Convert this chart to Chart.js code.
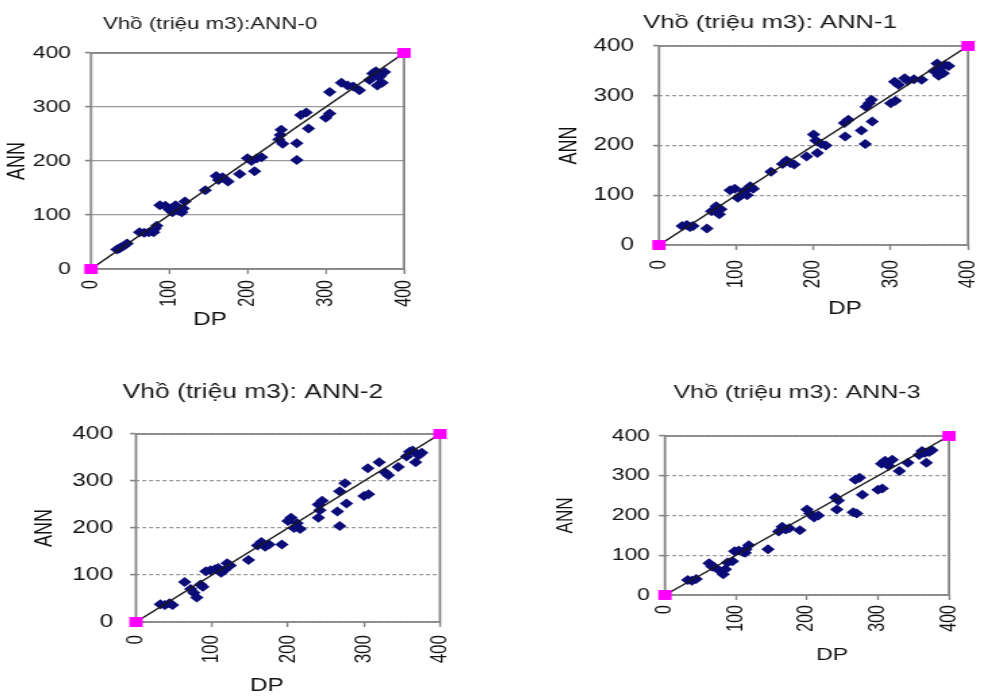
<!DOCTYPE html>
<html>
<head>
<meta charset="utf-8">
<script src="https://cdn.jsdelivr.net/npm/chart.js@4/dist/chart.umd.min.js"></script>
<style>
html, body { margin:0; padding:0; background:#fff; width:982px; height:698px; overflow:hidden; }
.panel { position:absolute; transform-origin:0 0; }
.panel canvas { display:block; }
</style>
</head>
<body>
<script>
////////////data////////////
var titles = ['Vhồ (triệu m3):ANN-0', 'Vhồ (triệu m3): ANN-1', 'Vhồ (triệu m3): ANN-2', 'Vhồ (triệu m3): ANN-3'];
var xTitle = 'DP', yTitle = 'ANN';
var axisMin = 0, axisMax = 400, axisStep = 100;

// 1:1 reference line, its end points are the pink squares
var lineX = [0, 400];
var lineY = [0, 400];

// ANN-0
var dp0  = [33,36,38,42,46, 62,68,74, 80,82,84, 88,95, 100,104,108,112,116,118,120, 146, 160,163,168,175, 190, 200,205,212,218, 209, 240,242,243,245, 263,263, 268,275, 278, 300,305, 305, 320,328,335, 343, 356,360,364,366,368,370,372,375];
var ann0 = [36,38,40,43,47, 68,67,68, 68,75,80, 118,117, 110,105,118,108,105,112,125, 146, 172,165,170,162, 176, 205,200,205,207, 181, 240,248,258,232, 233,202, 285,290, 260, 280,288, 328, 345,340,338, 331, 350,362,366,340,355,358,345,365];
// ANN-1
var dp1  = [30,36,40,44, 62, 68,74,78,80, 92,98,102,106,110,114,118,122, 145, 160,165,170,175, 191, 200,203, 205,210,216, 240,245, 241, 262, 267, 268,272,275, 276, 300,306, 305,310,318,322, 330,340, 356,360,362,365,368,370,375];
var ann1 = [38,40,36,38, 33, 68,78,62,72, 110,113,95,100,108,100,118,113, 147, 163,170,165,162, 178, 222,210, 185,203,200, 245,252, 218, 230, 203, 278,285,292, 248, 285,290, 328,322,335,330, 333,332, 350,365,340,358,345,362,360];
// ANN-2
var dp2  = [32,38,44,48, 64, 72,76,80,85,88, 92,98,104, 108,112,116,120,124, 148, 160,165,170,175, 192, 200,204,208,212, 216, 240,242,245, 240, 265, 268, 268,275, 277, 300,306, 305, 320, 328,332, 345, 356,360,364,368,372,376];
var ann2 = [38,36,40,36, 85, 70,62,52,80,75, 108,110,112, 115,105,110,125,120, 132, 163,170,160,165, 165, 215,222,200,210, 198, 250,238,258, 222, 235, 204, 278,295, 252, 268,272, 327, 340, 318,312, 330, 352,362,365,340,355,360];
// ANN-3
var dp3  = [32,38,44, 62,66,70, 78,82,85, 88,95, 98,104,110,114,118, 113, 145, 160,165,170,175, 190, 200,204,210,216, 240,244,242, 265,270, 268,274, 278, 300,306, 305,310,315,320, 330, 342, 358,362,366,368,372,376];
var ann3 = [38,36,40, 80,72,70, 60,52,65, 82,85, 110,112,108,115,125, 106, 115, 160,172,165,168, 163, 215,205,195,200, 245,238,215, 208,205, 290,295, 252, 265,268, 330,338,325,340, 312, 333, 352,362,358,333,360,364];

var dpSets  = [dp0, dp1, dp2, dp3];
var annSets = [ann0, ann1, ann2, ann3];

////////////layout (page px)////////////
// the source picture is stretched sideways, so each canvas is drawn narrow and widened with css
var S = 1.35;
// L,R,T,B = canvas box; l,r,t,b = plot area; tm = title middle; ac = ANN centre x; dx,dc = DP centre
// yg / xg = gap from axis to tick labels; tf, yf, xf, af = font sizes
var panels = [
	{L:0,   R:420,  T:0,   B:335, l:91,  r:404, t:53,  b:269, tm:24,  ac:17,  dx:210, dc:320, yg:20, xg:11, tf:16.5, yf:17, xf:16, af:18, dash:false},
	{L:552, R:988,  T:0,   B:322, l:659, r:968, t:46,  b:245, tm:23,  ac:570, dx:845, dc:309, yg:25, xg:15, tf:19,   yf:18, xf:17, af:18, dash:true},
	{L:26,  R:480,  T:370, B:698, l:136, r:440, t:434, b:622, tm:393, ac:45,  dx:267, dc:686, yg:23, xg:13, tf:19.5, yf:18, xf:17, af:18, dash:true},
	{L:548, R:1046, T:370, B:670, l:665, r:949, t:436, b:595, tm:393, ac:566, dx:832, dc:655, yg:15, xg:10, tf:18.5, yf:17, xf:16, af:17, dash:true}
];

var fontFamily = "'Liberation Sans', Arial, sans-serif";
Chart.defaults.font.family = fontFamily;
Chart.defaults.color = '#111';

//gray box round the plot area
var plotFrame = {
	id: 'plotFrame',
	beforeDatasetsDraw: function(chart) {
		var a = chart.chartArea, ctx = chart.ctx;
		ctx.save();
		ctx.strokeStyle = '#858585';
		ctx.lineWidth = 1.8;
		ctx.strokeRect(a.left, a.top, a.right - a.left, a.bottom - a.top);
		ctx.restore();
	}
};

//x axis name - excel put it off centre, so it is placed by hand
var dpLabel = {
	id: 'dpLabel',
	afterDraw: function(chart, args, opts) {
		var ctx = chart.ctx;
		ctx.save();
		ctx.font = opts.size + 'px ' + fontFamily;
		ctx.fillStyle = '#111';
		ctx.textAlign = 'center';
		ctx.textBaseline = 'middle';
		ctx.fillText(xTitle, opts.x, opts.y);
		ctx.restore();
	}
};

function makePanel(i) {
	var p = panels[i];
	var cw = Math.round((p.R - p.L) / S), ch = p.B - p.T;
	var sx = (p.R - p.L) / cw;

	var wrap = document.createElement('div');
	wrap.className = 'panel';
	wrap.style.left = p.L + 'px';
	wrap.style.top = p.T + 'px';
	wrap.style.width = cw + 'px';
	wrap.style.height = ch + 'px';
	wrap.style.transform = 'scaleX(' + sx + ')';
	var cv = document.createElement('canvas');
	cv.width = cw;
	cv.height = ch;
	wrap.appendChild(cv);
	document.body.appendChild(wrap);

	var tLH = p.tf * 1.2, aLH = p.af * 1.2;
	var tPadTop = p.tm - p.T - tLH / 2;
	var tPadBottom = p.t - p.T - tPadTop - tLH;
	var yw = (p.l - p.L) / sx, pr = (p.R - p.r) / sx, xh = p.B - p.b;
	var tlY = 6 / sx;
	var yPad = p.yg / sx - tlY, xPad = p.xg - 5;
	var annPad = Math.max(0, (p.ac - p.L) / sx - aLH / 2);

	var pts = dpSets[i].map(function(x, k) { return {x: x, y: annSets[i][k]}; });
	var diag = lineX.map(function(x, k) { return {x: x, y: lineY[k]}; });

	new Chart(cv, {
		type: 'scatter',
		data: {
			datasets: [{
				type: 'line',
				data: diag,
				order: 0,
				showLine: true,
				fill: false,
				borderColor: '#1a1a1a',
				borderWidth: 1.5,
				pointStyle: 'rect',
				pointRadius: 7,
				pointBackgroundColor: '#ff00ff',
				pointBorderColor: '#ff00ff',
				pointBorderWidth: 0,
				clip: false
			}, {
				data: pts,
				order: 1,
				pointStyle: 'rectRot',
				pointRadius: 5,
				backgroundColor: '#0c0c78',
				borderColor: '#0c0c78',
				borderWidth: 0
			}]
		},
		options: {
			responsive: false,
			animation: false,
			events: [],
			layout: { padding: 0 },
			plugins: {
				legend: { display: false },
				tooltip: { enabled: false },
				title: {
					display: true,
					text: titles[i],
					color: '#1a1a1a',
					font: { size: p.tf, weight: 'normal' },
					padding: { top: tPadTop, bottom: tPadBottom }
				},
				dpLabel: { x: (p.dx - p.L) / sx, y: p.dc - p.T, size: p.af }
			},
			scales: {
				x: {
					type: 'linear',
					min: axisMin, max: axisMax,
					afterFit: function(s) { s.height = xh; s.paddingLeft = 0; s.paddingRight = pr; },
					ticks: { stepSize: axisStep, minRotation: 90, maxRotation: 90, autoSkip: false, padding: xPad, font: { size: p.xf } },
					grid: { drawOnChartArea: false, drawTicks: true, tickLength: 5, tickColor: '#858585', tickWidth: 1.4 },
					border: { display: false },
					title: { display: false }
				},
				y: {
					type: 'linear',
					min: axisMin, max: axisMax,
					afterFit: function(s) { s.width = yw; s.paddingTop = 0; s.paddingBottom = 0; },
					ticks: { stepSize: axisStep, padding: yPad, font: { size: p.yf } },
					grid: { color: '#9a9a9a', lineWidth: 1.2, drawTicks: true, tickLength: tlY, tickColor: '#858585', tickWidth: 1.6, tickBorderDash: [] },
					border: { display: false, dash: p.dash ? [3, 2] : [] },
					title: { display: true, text: yTitle, font: { size: p.af, weight: 'normal' }, padding: { top: annPad, bottom: 0 } }
				}
			}
		},
		plugins: [plotFrame, dpLabel]
	});
}

for (var i = 0; i < panels.length; i++) makePanel(i);
</script>
</body>
</html>
